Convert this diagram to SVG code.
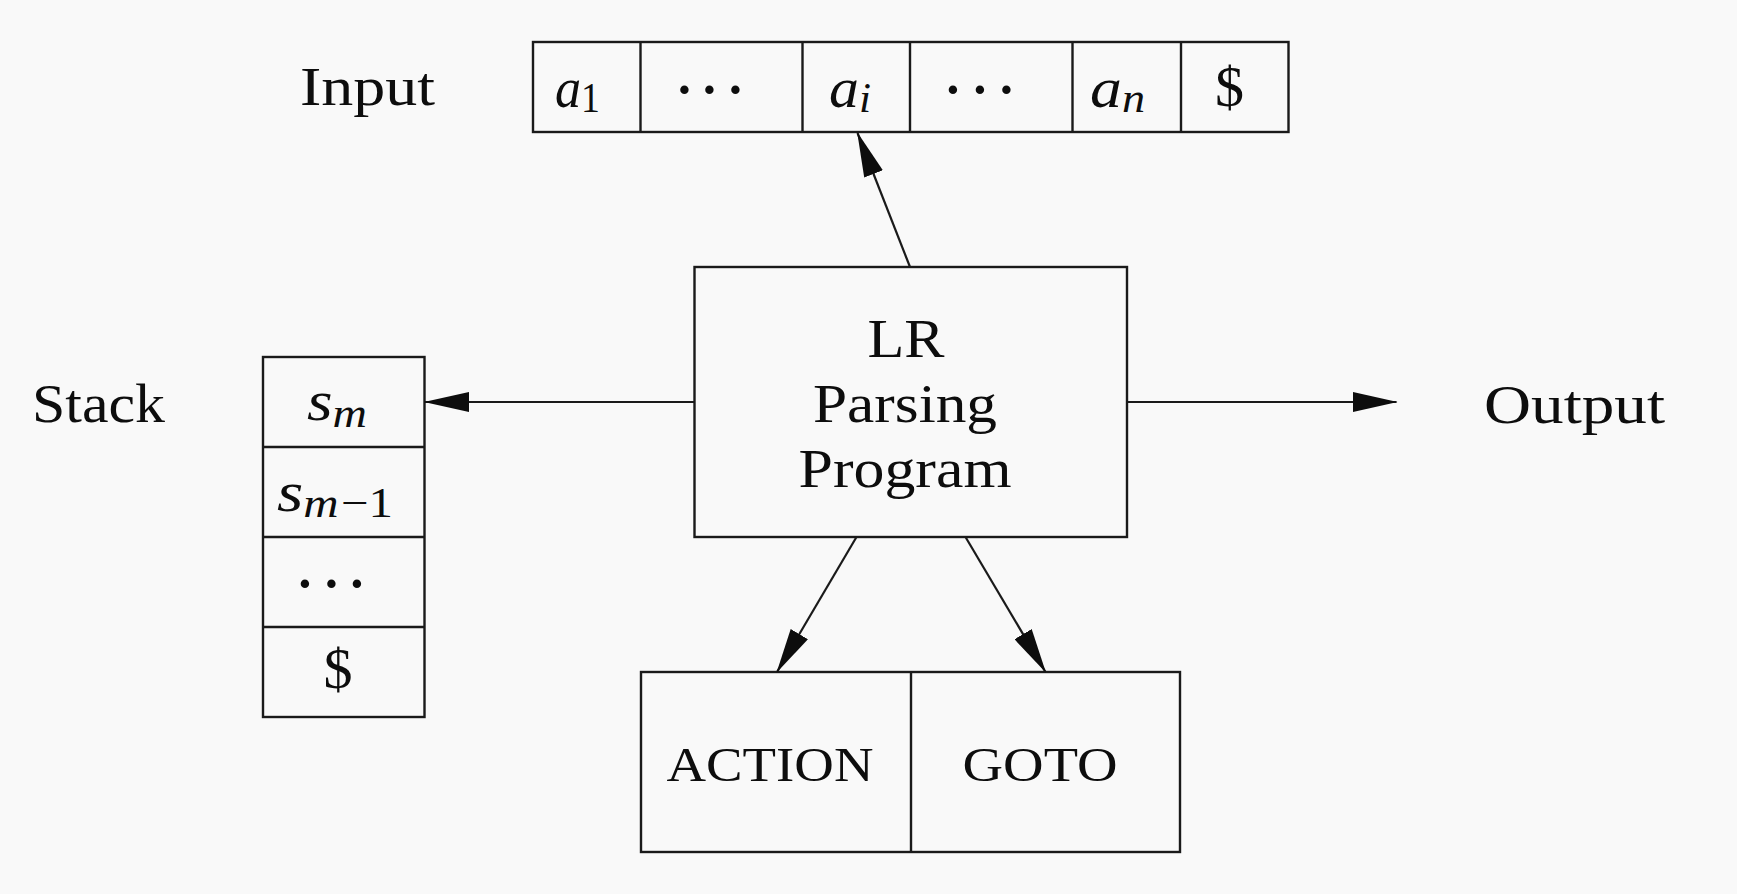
<svg xmlns="http://www.w3.org/2000/svg" width="1737" height="894" viewBox="0 0 1737 894">
<style>
.bg{fill:#f9f9f9}
.box{fill:none;stroke:#1a1a1a;stroke-width:2.4}
.edge{fill:none;stroke:#1a1a1a;stroke-width:2.2;marker-end:url(#arr)}
text{font-family:"Liberation Serif","Times New Roman",serif;fill:#0d0d0d}
.lbl{font-size:55px;text-anchor:middle}
.cell{font-size:58px}
.mi{font-style:italic}
.sub{font-size:42px}
.sc{font-size:49px;text-anchor:middle}
.dot{font-size:52px;text-anchor:middle;font-weight:bold}
</style>
<defs>
<marker id="arr" viewBox="0 0 45 20" markerWidth="45" markerHeight="20" refX="44" refY="10" orient="auto" markerUnits="userSpaceOnUse">
<path d="M0,0 L45,10 L0,20 z" fill="#0d0d0d"/>
</marker>
</defs>
<rect class="bg" x="0" y="0" width="1737" height="894"/>

<g id="input-label"><text class="lbl" x="367.5" y="105" textLength="135" lengthAdjust="spacingAndGlyphs">Input</text></g>
<g id="stack-label"><text class="lbl" x="98.5" y="421.5" textLength="133" lengthAdjust="spacingAndGlyphs">Stack</text></g>
<g id="output-label"><text class="lbl" x="1574.5" y="423" textLength="181" lengthAdjust="spacingAndGlyphs">Output</text></g>

<g id="input">
<rect class="box" x="533" y="42" width="755.5" height="90"/>
<line class="box" x1="640.5" y1="42" x2="640.5" y2="132"/>
<line class="box" x1="802.5" y1="42" x2="802.5" y2="132"/>
<line class="box" x1="910" y1="42" x2="910" y2="132"/>
<line class="box" x1="1072.5" y1="42" x2="1072.5" y2="132"/>
<line class="box" x1="1181" y1="42" x2="1181" y2="132"/>
<text class="cell" x="555" y="107" textLength="45" lengthAdjust="spacingAndGlyphs"><tspan class="mi">a</tspan><tspan class="sub" dy="5">1</tspan></text>
<text class="dot" y="107"><tspan x="684.5">·</tspan><tspan x="709.5">·</tspan><tspan x="735.5">·</tspan></text>
<text class="cell" x="829" y="107" textLength="42" lengthAdjust="spacingAndGlyphs"><tspan class="mi">a</tspan><tspan class="sub mi" dy="5">i</tspan></text>
<text class="dot" y="107"><tspan x="953">·</tspan><tspan x="980">·</tspan><tspan x="1006.5">·</tspan></text>
<text class="cell" x="1090" y="107" textLength="55" lengthAdjust="spacingAndGlyphs"><tspan class="mi">a</tspan><tspan class="sub mi" dy="5">n</tspan></text>
<text class="cell" x="1229.5" y="106" text-anchor="middle">$</text>
</g>

<g id="stack">
<rect class="box" x="263" y="357" width="161.5" height="360"/>
<line class="box" x1="263" y1="447" x2="424.5" y2="447"/>
<line class="box" x1="263" y1="537" x2="424.5" y2="537"/>
<line class="box" x1="263" y1="627" x2="424.5" y2="627"/>
<text class="cell" x="307" y="420" textLength="60" lengthAdjust="spacingAndGlyphs"><tspan class="mi">s</tspan><tspan class="sub mi" dy="7">m</tspan></text>
<text class="cell" x="277" y="511" textLength="116" lengthAdjust="spacingAndGlyphs"><tspan class="mi">s</tspan><tspan class="sub mi" dy="6">m</tspan><tspan class="sub" dx="2">−1</tspan></text>
<text class="dot" y="601"><tspan x="305">·</tspan><tspan x="331.5">·</tspan><tspan x="357">·</tspan></text>
<text class="cell" x="338" y="688" text-anchor="middle">$</text>
</g>

<g id="lr-parser">
<rect class="box" x="694.5" y="267" width="432.5" height="270"/>
<text class="lbl" font-size="56" x="906" y="357" textLength="77" lengthAdjust="spacingAndGlyphs">LR</text>
<text class="lbl" font-size="56" x="905" y="422" textLength="184" lengthAdjust="spacingAndGlyphs">Parsing</text>
<text class="lbl" font-size="56" x="905" y="487" textLength="213" lengthAdjust="spacingAndGlyphs">Program</text>
</g>

<g id="table">
<rect class="box" x="641" y="672" width="539" height="180"/>
<line class="box" x1="911" y1="672" x2="911" y2="852"/>
<text class="sc" x="770" y="780.5" textLength="207" lengthAdjust="spacingAndGlyphs">ACTION</text>
<text class="sc" x="1040" y="780.5" textLength="155" lengthAdjust="spacingAndGlyphs">GOTO</text>
</g>

<g id="connectors">
<line class="edge" x1="910" y1="267" x2="857.5" y2="133"/>
<line class="edge" x1="694.5" y1="402" x2="425" y2="402"/>
<line class="edge" x1="1127" y1="402" x2="1396.5" y2="402"/>
<line class="edge" x1="856.5" y1="537" x2="777" y2="672"/>
<line class="edge" x1="965.5" y1="537" x2="1045.5" y2="672"/>
</g>
</svg>
